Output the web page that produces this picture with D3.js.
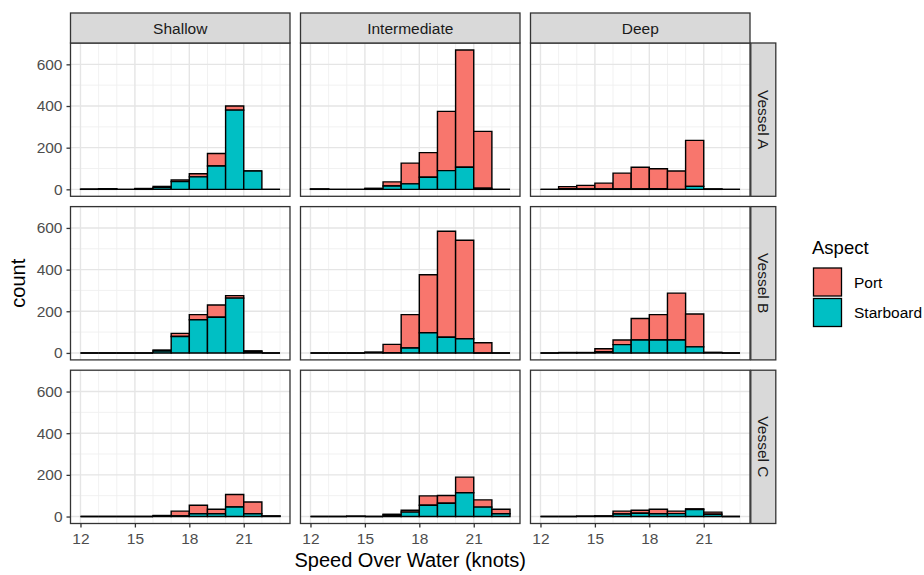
<!DOCTYPE html>
<html><head><meta charset="utf-8">
<script src="https://cdn.jsdelivr.net/npm/d3@7"></script>
<style>
body{margin:0;background:#fff}
svg{display:block}
text{font-family:Arial,"Liberation Sans",sans-serif}
</style></head>
<body><svg id="c" width="924" height="575"></svg>
<script>
// ---- data ----
const depths = ["Shallow", "Intermediate", "Deep"];
const vessels = ["Vessel A", "Vessel B", "Vessel C"];
const aspects = ["Port", "Starboard"];
const binStarts = [12, 13, 14, 15, 16, 17, 18, 19, 20, 21, 22];
const binWidth = 1;
const xTicks = [12, 15, 18, 21];
const yTicks = [0, 200, 400, 600];

// counts per bin (bins start at binStarts)
const portShallowA = [0, 1, 0, 1, 6, 8, 15, 60, 20, 0, 0];
const starShallowA = [1, 2, 0, 3, 8, 37, 60, 112, 380, 88, 0];
const portInterA   = [1, 0, 0, 2, 20, 100, 118, 284, 563, 273, 0];
const starInterA   = [1, 0, 0, 3, 16, 26, 58, 90, 106, 5, 0];
const portDeepA    = [0, 10, 17, 28, 76, 104, 96, 88, 221, 1, 0];
const starDeepA    = [0, 3, 2, 2, 2, 2, 3, 0, 14, 1, 0];

const portShallowB = [0, 0, 0, 0, 5, 15, 25, 59, 12, 3, 0];
const starShallowB = [0, 0, 0, 0, 9, 79, 159, 171, 263, 7, 0];
const portInterB   = [0, 0, 0, 2, 40, 160, 278, 509, 473, 49, 0];
const starInterB   = [0, 0, 0, 2, 1, 24, 97, 75, 68, 0, 0];
const portDeepB    = [0, 1, 1, 14, 22, 103, 122, 225, 158, 2, 0];
const starDeepB    = [0, 1, 1, 6, 40, 62, 62, 62, 29, 1, 0];

const portShallowC = [0, 0, 0, 0, 2, 23, 41, 22, 60, 57, 1];
const starShallowC = [0, 0, 0, 0, 3, 3, 13, 13, 46, 13, 2];
const portInterC   = [0, 0, 1, 0, 4, 9, 45, 37, 75, 35, 22];
const starInterC   = [0, 0, 1, 0, 7, 21, 54, 64, 114, 45, 13];
const portDeepC    = [0, 0, 1, 1, 14, 14, 22, 12, 3, 10, 0];
const starDeepC    = [0, 0, 1, 2, 12, 16, 13, 14, 34, 11, 0];

const panels = [
  [[portShallowA, starShallowA], [portInterA, starInterA], [portDeepA, starDeepA]],
  [[portShallowB, starShallowB], [portInterB, starInterB], [portDeepB, starDeepB]],
  [[portShallowC, starShallowC], [portInterC, starInterC], [portDeepC, starDeepC]]
];

// ---- layout ----
const colors = {Port: "#F8766D", Starboard: "#00BFC4"};
const gLeft = 70.5, gTop = 43, panelW = 219.5, panelH = 153.3, hgap = 10.5, vgap = 10.3;
const stripH = 30, stripW = 25;
const svg = d3.select("#c");

let maxTotal = 0;
panels.forEach(row => row.forEach(([p, s]) => p.forEach((v, i) => { maxTotal = Math.max(maxTotal, v + s[i]); })));

const xMin = binStarts[0], xMax = binStarts[binStarts.length - 1] + binWidth;
const xPad = (xMax - xMin) * 0.05;
const x = d3.scaleLinear().domain([xMin - xPad, xMax + xPad]).range([0, panelW]);
const y = d3.scaleLinear().domain([-0.05 * maxTotal, 1.05 * maxTotal]).range([panelH, 0]);

const majorX = xTicks;
const minorX = d3.range(Math.ceil(xMin - xPad), Math.floor(xMax + xPad) + 1).filter(v => !majorX.includes(v));
const majorY = yTicks;
const minorY = [100, 300, 500, 700].filter(v => v <= y.domain()[1]);

function barPath(x0, x1, y0, y1) {
  return `M${x0},${y0}H${x1}V${y1}H${x0}Z`;
}

vessels.forEach((vessel, r) => {
  const py = gTop + r * (panelH + vgap);
  depths.forEach((depth, c) => {
    const px = gLeft + c * (panelW + hgap);
    const g = svg.append("g").attr("transform", `translate(${px},${py})`);
    g.append("rect").attr("width", panelW).attr("height", panelH).attr("fill", "#fff");
    g.selectAll(".mx").data(minorX).join("line")
      .attr("x1", d => x(d)).attr("x2", d => x(d)).attr("y1", 0).attr("y2", panelH)
      .attr("stroke", "#efefef").attr("stroke-width", 0.9);
    g.selectAll(".my").data(minorY).join("line")
      .attr("y1", d => y(d)).attr("y2", d => y(d)).attr("x1", 0).attr("x2", panelW)
      .attr("stroke", "#efefef").attr("stroke-width", 0.9);
    g.selectAll(".Mx").data(majorX).join("line")
      .attr("x1", d => x(d)).attr("x2", d => x(d)).attr("y1", 0).attr("y2", panelH)
      .attr("stroke", "#e5e5e5").attr("stroke-width", 1.4);
    g.selectAll(".My").data(majorY).join("line")
      .attr("y1", d => y(d)).attr("y2", d => y(d)).attr("x1", 0).attr("x2", panelW)
      .attr("stroke", "#e5e5e5").attr("stroke-width", 1.4);

    const [port, star] = panels[r][c];
    const bars = [];
    binStarts.forEach((b, i) => {
      bars.push({aspect: "Port", x0: b, x1: b + binWidth, y0: star[i], y1: star[i] + port[i]});
      bars.push({aspect: "Starboard", x0: b, x1: b + binWidth, y0: 0, y1: star[i]});
    });
    g.selectAll(".bar").data(bars).join("path")
      .attr("d", d => barPath(x(d.x0), x(d.x1), y(d.y0), y(d.y1)))
      .attr("fill", d => colors[d.aspect])
      .attr("stroke", "#000").attr("stroke-width", 1.4);

    g.append("rect").attr("width", panelW).attr("height", panelH)
      .attr("fill", "none").attr("stroke", "#333").attr("stroke-width", 1.3);

    if (r === 0) {
      const s = svg.append("g").attr("transform", `translate(${px},${gTop - stripH})`);
      s.append("rect").attr("width", panelW).attr("height", stripH)
        .attr("fill", "#d9d9d9").attr("stroke", "#333").attr("stroke-width", 1.3);
      s.append("text").attr("x", panelW / 2).attr("y", stripH / 2 + 5.5)
        .attr("text-anchor", "middle").attr("font-size", 15.5).attr("fill", "#1a1a1a").text(depth);
    }
    if (c === depths.length - 1) {
      const s = svg.append("g").attr("transform", `translate(${px + panelW + 0.8},${py})`);
      s.append("rect").attr("width", stripW).attr("height", panelH)
        .attr("fill", "#d9d9d9").attr("stroke", "#333").attr("stroke-width", 1.3);
      s.append("text").attr("transform", `translate(${stripW / 2 - 5.5},${panelH / 2}) rotate(90)`)
        .attr("text-anchor", "middle").attr("font-size", 15.5).attr("fill", "#1a1a1a").text(vessel);
    }
    if (c === 0) {
      const ax = svg.append("g").attr("transform", `translate(${px},${py})`)
        .call(d3.axisLeft(y).tickValues(yTicks).tickSize(4).tickPadding(4));
      ax.select(".domain").remove();
      ax.selectAll(".tick line").attr("stroke", "#333").attr("stroke-width", 1.3);
      ax.selectAll(".tick text").attr("font-size", 15.5).attr("fill", "#4d4d4d")
        .attr("font-family", "Arial, 'Liberation Sans', sans-serif");
    }
    if (r === vessels.length - 1) {
      const ax = svg.append("g").attr("transform", `translate(${px},${py + panelH})`)
        .call(d3.axisBottom(x).tickValues(xTicks).tickSize(4).tickPadding(5));
      ax.select(".domain").remove();
      ax.selectAll(".tick line").attr("stroke", "#333").attr("stroke-width", 1.3);
      ax.selectAll(".tick text").attr("font-size", 15.5).attr("fill", "#4d4d4d")
        .attr("font-family", "Arial, 'Liberation Sans', sans-serif");
    }
  });
});

const gridRight = gLeft + 3 * panelW + 2 * hgap;
const gridBottom = gTop + 3 * panelH + 2 * vgap;
svg.append("text").attr("x", (gLeft + gridRight) / 2).attr("y", 567)
  .attr("text-anchor", "middle").attr("font-size", 20).attr("fill", "#000").text("Speed Over Water (knots)");
svg.append("text").attr("transform", `translate(25,${(gTop + gridBottom) / 2}) rotate(-90)`)
  .attr("text-anchor", "middle").attr("font-size", 20).attr("fill", "#000").text("count");

const lg = svg.append("g").attr("transform", "translate(812,0)");
lg.append("text").attr("x", 0).attr("y", 254).attr("font-size", 18.5).attr("fill", "#000").text("Aspect");
aspects.forEach((a, i) => {
  const ky = 268 + i * 30.5;
  lg.append("rect").attr("x", 1.5).attr("y", ky).attr("width", 28).attr("height", 28)
    .attr("fill", colors[a]).attr("stroke", "#000").attr("stroke-width", 1.3);
  lg.append("text").attr("x", 42).attr("y", ky + 19.5).attr("font-size", 15.5).attr("fill", "#000").text(a);
});
</script></body></html>
